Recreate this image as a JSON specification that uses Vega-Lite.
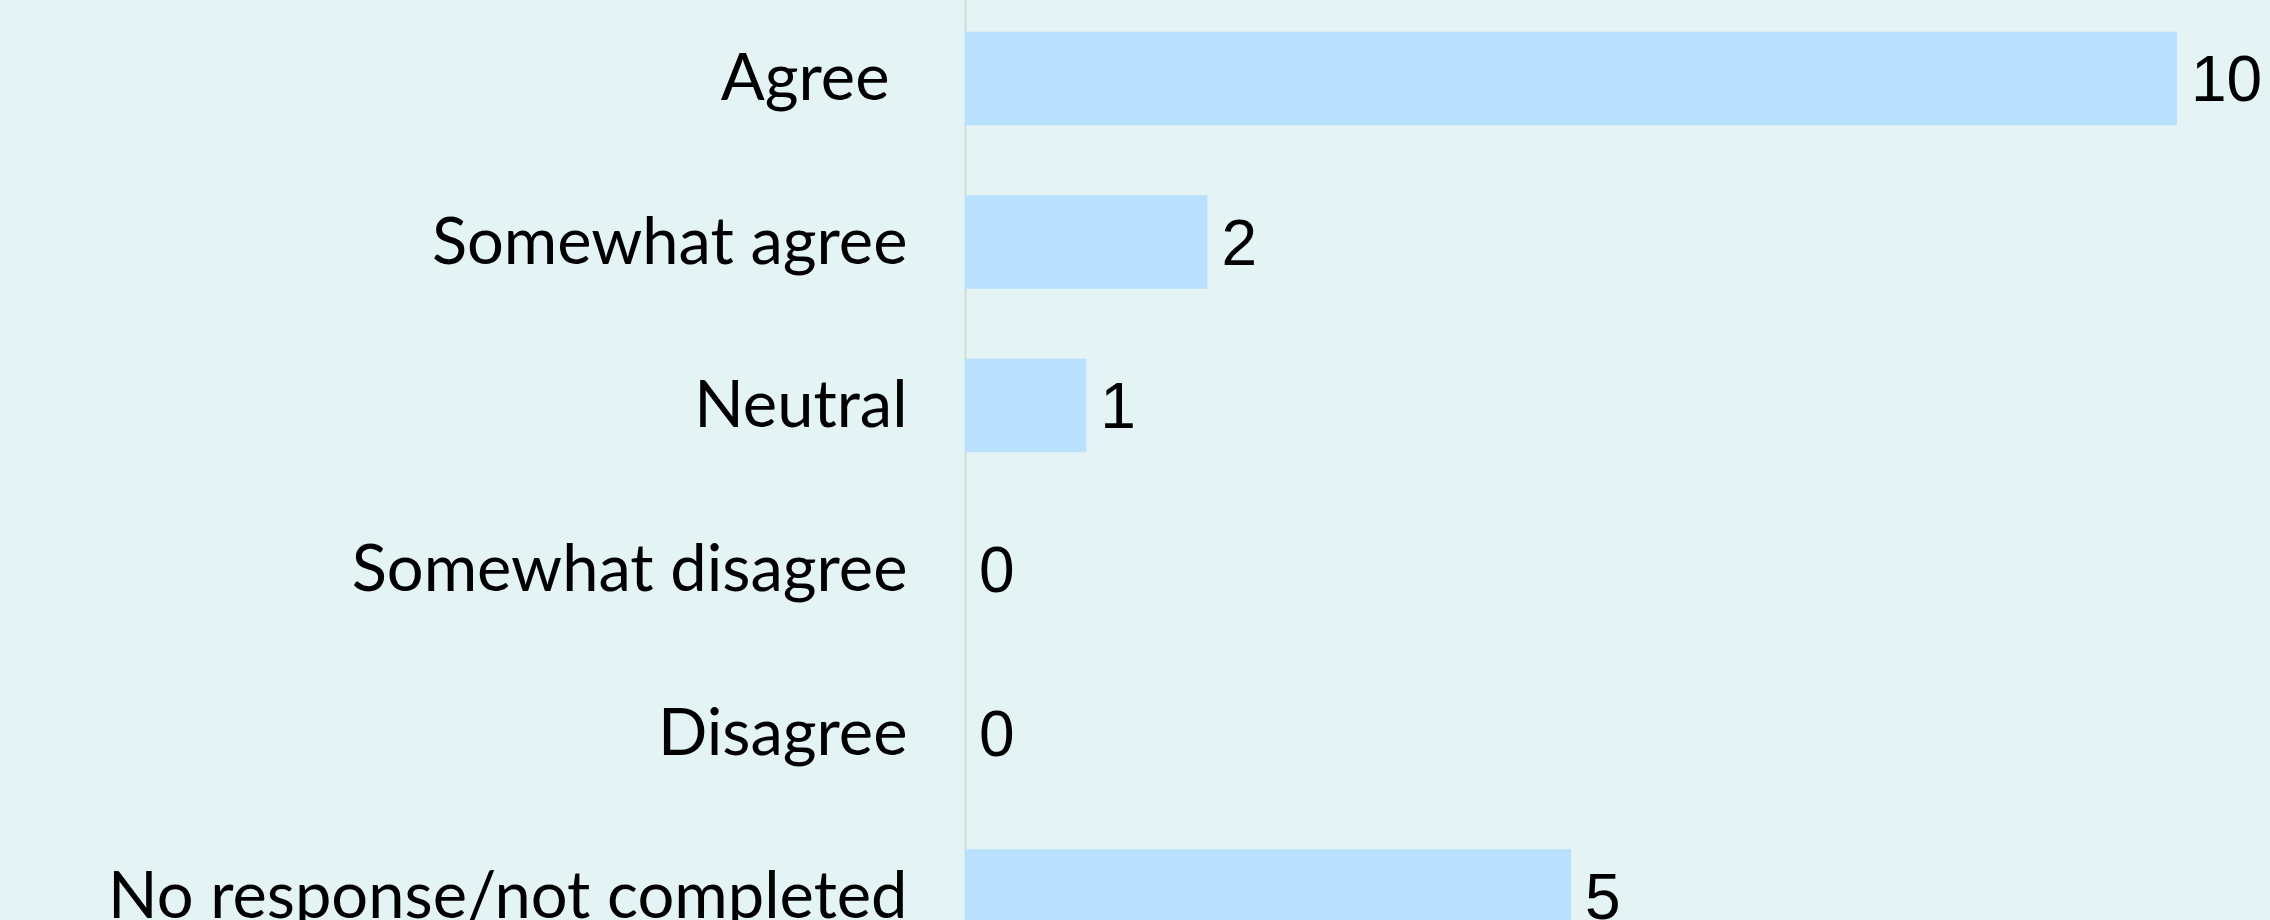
{
  "$schema": "https://vega.github.io/schema/vega-lite/v6.json",
  "autosize": {"type": "none"},
  "width": 1212,
  "height": 920,
  "padding": {"left": 965, "top": 0, "right": 93, "bottom": 0},
  "background": "#E4F3F4",
  "config": {"view": {"stroke": null}},
  "data": {"values": [
    {"response": "Agree", "count": 10},
    {"response": "Somewhat agree", "count": 2},
    {"response": "Neutral", "count": 1},
    {"response": "Somewhat disagree", "count": 0},
    {"response": "Disagree", "count": 0},
    {"response": "No response/not completed", "count": 5}
  ]},
  "encoding": {
    "y": {
      "field": "response", "type": "nominal", "sort": null,
      "scale": {"range": [0, 974.5], "paddingInner": 0.428, "paddingOuter": 0.194},
      "axis": {
        "title": null, "ticks": false, "domain": true, "domainColor": "#D2DCDD", "domainWidth": 2,
        "labelFont": "Lato", "labelFontSize": 65, "labelColor": "#000000",
        "labelPadding": {"condition": {"test": "datum.value === 'Agree'", "value": 76}, "value": 58},
        "labelLimit": 2000, "labelOffset": 2
      }
    },
    "x": {
      "field": "count", "type": "quantitative",
      "scale": {"domain": [0, 10], "nice": false},
      "axis": null
    }
  },
  "layer": [
    {"mark": {"type": "bar", "color": "#B9E0FC"}},
    {"mark": {"type": "text", "align": "left", "baseline": "middle", "dx": 14, "dy": 4, "font": "Liberation Sans", "fontSize": 64, "color": "#000000"},
     "encoding": {"text": {"field": "count", "type": "quantitative"}}}
  ]
}
